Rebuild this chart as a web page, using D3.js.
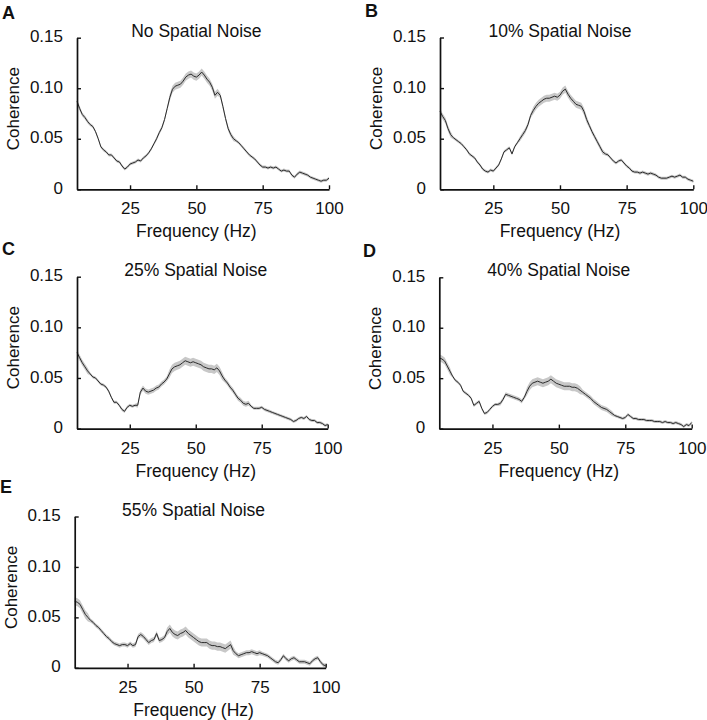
<!DOCTYPE html>
<html>
<head>
<meta charset="utf-8">
<script src="https://cdn.jsdelivr.net/npm/d3@7"></script>
<style>
  html, body { margin: 0; padding: 0; background: #fff; }
  svg { display: block; }
  text { font-family: "Liberation Sans", Arial, sans-serif; fill: #111; }
</style>
</head>
<body>
<svg id="chart" width="707" height="720"></svg>
<script>
// ---------- DATA ----------
const frequencies = d3.range(5, 101, 1); // 5..100 Hz

const panelLetters = ["A", "B", "C", "D", "E"];
const panelTitles = ["No Spatial Noise", "10% Spatial Noise", "25% Spatial Noise", "40% Spatial Noise", "55% Spatial Noise"];
const xTickValues = [25, 50, 75, 100];
const yTickValues = [0, 0.05, 0.10, 0.15];
const xLabel = "Frequency (Hz)";
const yLabel = "Coherence";

const coherenceA = [
  0.087,0.080,0.074,0.071,0.067,0.064,0.062,0.057,0.050,0.042,
  0.039,0.037,0.034,0.034,0.031,0.028,0.027,0.023,0.020,0.022,
  0.025,0.026,0.027,0.029,0.028,0.031,0.033,0.036,0.040,0.045,
  0.050,0.056,0.061,0.069,0.080,0.091,0.099,0.102,0.103,0.104,
  0.107,0.111,0.113,0.114,0.112,0.111,0.113,0.116,0.113,0.109,
  0.106,0.101,0.093,0.096,0.093,0.082,0.070,0.060,0.054,0.050,
  0.048,0.046,0.043,0.040,0.037,0.034,0.032,0.030,0.027,0.024,
  0.022,0.022,0.021,0.022,0.021,0.022,0.020,0.018,0.019,0.018,
  0.018,0.014,0.012,0.015,0.017,0.016,0.015,0.014,0.012,0.011,
  0.010,0.009,0.008,0.009,0.009,0.011];
const coherenceB = [
  0.077,0.072,0.068,0.060,0.054,0.051,0.049,0.047,0.045,0.042,
  0.039,0.035,0.033,0.031,0.027,0.024,0.020,0.018,0.017,0.019,
  0.018,0.021,0.024,0.030,0.037,0.039,0.041,0.035,0.042,0.046,
  0.050,0.054,0.058,0.064,0.073,0.078,0.082,0.085,0.087,0.089,
  0.090,0.090,0.091,0.092,0.091,0.093,0.097,0.099,0.094,0.090,
  0.087,0.084,0.083,0.082,0.077,0.069,0.063,0.057,0.052,0.047,
  0.042,0.037,0.035,0.034,0.031,0.028,0.026,0.028,0.029,0.026,
  0.023,0.021,0.018,0.017,0.017,0.016,0.017,0.016,0.015,0.016,
  0.015,0.014,0.012,0.011,0.011,0.011,0.012,0.013,0.012,0.013,
  0.014,0.012,0.012,0.010,0.009,0.008];
const coherenceC = [
  0.075,0.070,0.065,0.061,0.057,0.054,0.051,0.050,0.047,0.044,
  0.043,0.041,0.037,0.031,0.026,0.026,0.023,0.019,0.017,0.021,
  0.023,0.022,0.023,0.023,0.036,0.040,0.037,0.036,0.037,0.038,
  0.040,0.041,0.044,0.046,0.049,0.054,0.059,0.061,0.062,0.063,
  0.065,0.067,0.066,0.065,0.066,0.065,0.064,0.063,0.061,0.060,
  0.059,0.059,0.058,0.060,0.057,0.052,0.048,0.045,0.041,0.038,
  0.034,0.030,0.028,0.025,0.024,0.025,0.022,0.020,0.020,0.020,
  0.021,0.019,0.018,0.017,0.016,0.015,0.014,0.013,0.012,0.011,
  0.010,0.009,0.007,0.008,0.010,0.011,0.010,0.012,0.009,0.008,
  0.008,0.006,0.006,0.005,0.003,0.004];
const coherenceD = [
  0.070,0.069,0.067,0.062,0.057,0.052,0.048,0.046,0.043,0.037,
  0.035,0.033,0.030,0.023,0.025,0.027,0.020,0.015,0.016,0.019,
  0.022,0.024,0.024,0.025,0.029,0.034,0.033,0.032,0.031,0.030,
  0.029,0.027,0.031,0.037,0.042,0.045,0.046,0.047,0.046,0.045,
  0.046,0.047,0.049,0.047,0.045,0.044,0.043,0.042,0.042,0.042,
  0.041,0.041,0.040,0.038,0.036,0.034,0.032,0.030,0.027,0.025,
  0.023,0.021,0.020,0.019,0.017,0.015,0.013,0.012,0.011,0.010,
  0.011,0.014,0.012,0.010,0.010,0.009,0.009,0.009,0.008,0.008,
  0.008,0.007,0.007,0.007,0.006,0.007,0.006,0.006,0.005,0.006,
  0.005,0.004,0.002,0.004,0.003,0.006];
const coherenceE = [
  0.066,0.065,0.063,0.058,0.053,0.050,0.047,0.045,0.042,0.040,
  0.037,0.034,0.031,0.029,0.026,0.024,0.023,0.022,0.023,0.023,
  0.022,0.024,0.022,0.023,0.031,0.033,0.031,0.028,0.025,0.027,
  0.028,0.034,0.027,0.028,0.030,0.036,0.039,0.035,0.033,0.032,
  0.034,0.035,0.037,0.034,0.032,0.030,0.028,0.026,0.025,0.025,
  0.025,0.023,0.022,0.022,0.021,0.021,0.020,0.019,0.021,0.023,
  0.017,0.014,0.012,0.013,0.014,0.015,0.015,0.016,0.015,0.014,
  0.015,0.014,0.013,0.012,0.010,0.008,0.006,0.005,0.008,0.012,
  0.009,0.007,0.009,0.010,0.008,0.006,0.006,0.006,0.005,0.004,
  0.007,0.009,0.010,0.006,0.003,0.002];

// standard error (half-width of the grey band), same frequencies
const semA = [
  0.0030,0.0025,0.0020,0.0020,0.0020,0.0015,0.0015,0.0015,0.0015,0.0015,
  0.0015,0.0015,0.0015,0.0015,0.0015,0.0015,0.0015,0.0015,0.0015,0.0015,
  0.0015,0.0015,0.0015,0.0015,0.0015,0.0015,0.0015,0.0015,0.0015,0.0015,
  0.0020,0.0020,0.0020,0.0020,0.0020,0.0035,0.0035,0.0035,0.0035,0.0035,
  0.0035,0.0035,0.0035,0.0035,0.0035,0.0035,0.0035,0.0035,0.0035,0.0035,
  0.0035,0.0035,0.0035,0.0035,0.0025,0.0025,0.0025,0.0025,0.0025,0.0025,
  0.0015,0.0015,0.0015,0.0015,0.0015,0.0015,0.0015,0.0015,0.0015,0.0015,
  0.0015,0.0015,0.0015,0.0015,0.0015,0.0015,0.0015,0.0015,0.0015,0.0015,
  0.0015,0.0015,0.0015,0.0015,0.0015,0.0015,0.0015,0.0015,0.0015,0.0015,
  0.0015,0.0015,0.0015,0.0015,0.0015,0.0015];
const semB = [
  0.0030,0.0030,0.0030,0.0030,0.0030,0.0015,0.0015,0.0015,0.0015,0.0015,
  0.0015,0.0015,0.0015,0.0015,0.0015,0.0015,0.0015,0.0015,0.0015,0.0015,
  0.0015,0.0015,0.0015,0.0015,0.0015,0.0015,0.0015,0.0015,0.0015,0.0015,
  0.0025,0.0025,0.0025,0.0025,0.0025,0.0035,0.0035,0.0035,0.0035,0.0035,
  0.0035,0.0035,0.0035,0.0035,0.0035,0.0035,0.0035,0.0035,0.0035,0.0035,
  0.0035,0.0035,0.0035,0.0035,0.0035,0.0035,0.0025,0.0025,0.0025,0.0025,
  0.0025,0.0025,0.0015,0.0015,0.0015,0.0015,0.0015,0.0015,0.0015,0.0015,
  0.0015,0.0015,0.0015,0.0015,0.0015,0.0015,0.0015,0.0015,0.0015,0.0015,
  0.0015,0.0015,0.0015,0.0015,0.0015,0.0015,0.0015,0.0015,0.0015,0.0015,
  0.0015,0.0015,0.0015,0.0015,0.0015,0.0015];
const semC = [
  0.0030,0.0030,0.0030,0.0030,0.0030,0.0015,0.0015,0.0015,0.0015,0.0015,
  0.0015,0.0015,0.0015,0.0015,0.0015,0.0015,0.0015,0.0015,0.0015,0.0015,
  0.0015,0.0015,0.0015,0.0025,0.0025,0.0025,0.0025,0.0025,0.0025,0.0025,
  0.0025,0.0025,0.0025,0.0025,0.0025,0.0040,0.0040,0.0040,0.0040,0.0040,
  0.0040,0.0040,0.0040,0.0040,0.0040,0.0040,0.0040,0.0040,0.0040,0.0040,
  0.0040,0.0040,0.0040,0.0040,0.0040,0.0040,0.0025,0.0025,0.0025,0.0025,
  0.0025,0.0025,0.0025,0.0025,0.0025,0.0025,0.0015,0.0015,0.0015,0.0015,
  0.0015,0.0015,0.0015,0.0015,0.0015,0.0015,0.0015,0.0015,0.0015,0.0015,
  0.0015,0.0015,0.0015,0.0015,0.0015,0.0015,0.0015,0.0015,0.0015,0.0015,
  0.0015,0.0015,0.0015,0.0015,0.0015,0.0015];
const semD = [
  0.0035,0.0035,0.0035,0.0035,0.0035,0.0015,0.0015,0.0015,0.0015,0.0015,
  0.0015,0.0015,0.0015,0.0015,0.0015,0.0015,0.0015,0.0015,0.0015,0.0015,
  0.0015,0.0015,0.0015,0.0020,0.0020,0.0020,0.0020,0.0020,0.0020,0.0020,
  0.0020,0.0020,0.0020,0.0040,0.0040,0.0040,0.0040,0.0040,0.0040,0.0040,
  0.0040,0.0040,0.0040,0.0040,0.0040,0.0040,0.0040,0.0040,0.0040,0.0040,
  0.0040,0.0040,0.0040,0.0040,0.0025,0.0025,0.0025,0.0025,0.0025,0.0025,
  0.0025,0.0025,0.0025,0.0025,0.0025,0.0025,0.0015,0.0015,0.0015,0.0015,
  0.0015,0.0015,0.0015,0.0015,0.0015,0.0015,0.0015,0.0015,0.0015,0.0015,
  0.0015,0.0015,0.0015,0.0015,0.0015,0.0015,0.0015,0.0015,0.0015,0.0015,
  0.0015,0.0015,0.0015,0.0015,0.0015,0.0015];
const semE = [
  0.0040,0.0040,0.0040,0.0040,0.0040,0.0040,0.0020,0.0020,0.0020,0.0020,
  0.0020,0.0020,0.0020,0.0020,0.0020,0.0020,0.0020,0.0020,0.0020,0.0020,
  0.0020,0.0020,0.0020,0.0025,0.0025,0.0025,0.0025,0.0025,0.0025,0.0025,
  0.0025,0.0025,0.0025,0.0025,0.0025,0.0040,0.0040,0.0040,0.0040,0.0040,
  0.0040,0.0040,0.0040,0.0040,0.0040,0.0040,0.0040,0.0040,0.0040,0.0040,
  0.0040,0.0040,0.0040,0.0040,0.0040,0.0040,0.0040,0.0040,0.0040,0.0040,
  0.0040,0.0025,0.0025,0.0025,0.0025,0.0025,0.0025,0.0025,0.0025,0.0025,
  0.0025,0.0020,0.0020,0.0020,0.0020,0.0020,0.0020,0.0020,0.0020,0.0020,
  0.0020,0.0020,0.0020,0.0020,0.0020,0.0020,0.0020,0.0020,0.0020,0.0020,
  0.0020,0.0020,0.0020,0.0020,0.0020,0.0020];

const seriesMeans = [coherenceA, coherenceB, coherenceC, coherenceD, coherenceE];
const seriesSem = [semA, semB, semC, semD, semE];

// ---------- LAYOUT ----------
const layouts = [
  { left: 77,  right: 329,   top: 37.7,  bottom: 189.3, letterX: 2,   letterY: 19 },
  { left: 440, right: 693.3, top: 37.5,  bottom: 189.3, letterX: 365, letterY: 17 },
  { left: 77,  right: 327.7, top: 276.7, bottom: 428.6, letterX: 2,   letterY: 255 },
  { left: 439.3, right: 691.7, top: 277.3, bottom: 428.6, letterX: 363, letterY: 257 },
  { left: 74.7, right: 325.7, top: 516.5, bottom: 667.8, letterX: 0,   letterY: 493 }
];

const svg = d3.select("#chart");

layouts.forEach((L, i) => {
  const x = d3.scaleLinear().domain([5, 100]).range([L.left, L.right]);
  const y = d3.scaleLinear().domain([0, 0.15]).range([L.bottom, L.top]);
  const g = svg.append("g");

  const pts = frequencies.map((f, k) => ({ f, m: seriesMeans[i][k], s: seriesSem[i][k] }));

  // SEM band
  g.append("path")
    .datum(pts)
    .attr("fill", "#c8c8c8")
    .attr("stroke", "none")
    .attr("d", d3.area()
      .x(d => x(d.f))
      .y0(d => y(Math.max(0, d.m - d.s)))
      .y1(d => y(d.m + d.s)));

  // mean line
  g.append("path")
    .datum(pts)
    .attr("fill", "none")
    .attr("stroke", "#2b2b2b")
    .attr("stroke-width", 1)
    .attr("stroke-linejoin", "round")
    .attr("d", d3.line().x(d => x(d.f)).y(d => y(d.m)));

  // x axis
  const xAxis = g.append("g")
    .attr("transform", `translate(0,${L.bottom})`)
    .call(d3.axisBottom(x).tickValues(xTickValues).tickSizeInner(-4).tickSizeOuter(0).tickPadding(13));
  // y axis
  const yAxis = g.append("g")
    .attr("transform", `translate(${L.left},0)`)
    .call(d3.axisLeft(y).tickValues(yTickValues)
      .tickFormat(d => d === 0 ? "0" : d.toFixed(2))
      .tickSizeInner(-4).tickSizeOuter(0).tickPadding(14));

  [xAxis, yAxis].forEach(a => {
    a.select(".domain").attr("stroke", "#111").attr("stroke-width", 1.7);
    a.selectAll(".tick line").attr("stroke", "#111").attr("stroke-width", 1.4);
    a.selectAll(".tick text")
      .attr("fill", "#111")
      .style("font-family", "'Liberation Sans', Arial, sans-serif")
      .style("font-size", "17px");
  });
  yAxis.selectAll(".tick text").attr("dy", "0.24em");

  // title
  g.append("text")
    .attr("x", x(50)).attr("y", L.top - 1)
    .attr("text-anchor", "middle")
    .style("font-size", "17.5px")
    .text(panelTitles[i]);

  // x label
  g.append("text")
    .attr("x", x(50)).attr("y", L.bottom + 48)
    .attr("text-anchor", "middle")
    .style("font-size", "17.5px")
    .text(xLabel);

  // y label
  g.append("text")
    .attr("transform", `translate(${L.left - 58},${L.top + 71}) rotate(-90)`)
    .attr("text-anchor", "middle")
    .style("font-size", "17px")
    .text(yLabel);

  // panel letter
  g.append("text")
    .attr("x", L.letterX).attr("y", L.letterY)
    .style("font-size", "18px")
    .style("font-weight", "bold")
    .text(panelLetters[i]);
});
</script>
</body>
</html>
